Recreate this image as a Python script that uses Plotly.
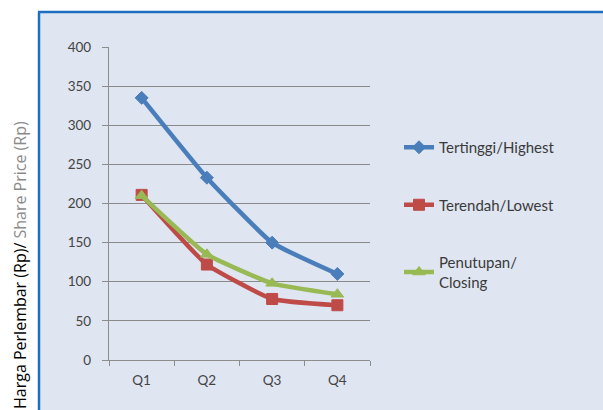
import plotly.graph_objects as go

quarters = ["Q1", "Q2", "Q3", "Q4"]
highest = [335, 233, 150, 110]
lowest = [211, 122, 78, 70]
closing = [210, 135, 98, 84]
names = ["Tertinggi/Highest", "Terendah/Lowest", "Penutupan/<br>Closing"]
y_ticks = [0, 50, 100, 150, 200, 250, 300, 350, 400]

colors = ["#4a7ebb", "#be4b48", "#98b954"]
symbols = ["diamond", "square", "triangle-up"]
sizes = [10, 11, 11]
series = [highest, lowest, closing]

fig = go.Figure()
for i, (vals, nm) in enumerate(zip(series, names)):
    fig.add_trace(go.Scatter(
        x=quarters, y=vals, name=nm, mode="lines+markers",
        line=dict(color=colors[i], width=4.5, shape="spline", smoothing=0.4),
        marker=dict(symbol=symbols[i], size=sizes[i], color=colors[i],
                    line=dict(color=colors[i], width=1)),
        legendgroup=str(i),
    ))

BG = "#dfe5f1"
L, T, W, H = 109, 47, 261, 313
fig.update_layout(
    width=603, height=410,
    margin=dict(l=L, r=603 - L - W, t=T, b=410 - T - H),
    paper_bgcolor="white",
    plot_bgcolor="rgba(0,0,0,0)",
    font=dict(family="Lato, Open Sans, sans-serif", color="#333333"),
    showlegend=True,
    legend=dict(x=(399 - L) / W, y=(T + H - 131) / H, xanchor="left", yanchor="top",
                bgcolor="rgba(0,0,0,0)", font=dict(size=15, color="#3a3a3a"),
                traceorder="grouped", tracegroupgap=35, itemwidth=30),
    shapes=[
        dict(type="rect", xref="paper", yref="paper", x0=(39 - L) / W, x1=2.0,
             y0=-0.3, y1=(T + H - 12) / H, fillcolor=BG, line=dict(width=0), layer="below"),
        dict(type="line", xref="paper", yref="paper", x0=(39 - L) / W, x1=(39 - L) / W,
             y0=-0.3, y1=(T + H - 12) / H, line=dict(color="#1f6fc0", width=2.5), layer="above"),
        dict(type="line", xref="paper", yref="paper", x0=(38 - L) / W, x1=2.0,
             y0=(T + H - 12) / H, y1=(T + H - 12) / H, line=dict(color="#1f6fc0", width=2.5),
             layer="above"),
    ],
    annotations=[
        dict(xref="paper", yref="paper", x=(20 - L) / W, y=(T + H - 119) / H, xanchor="center",
             yanchor="top", textangle=-90, showarrow=False,
             text="<span style='color:#000'>Harga Perlembar (Rp)/</span> "
                  "<span style='color:#8a8a8a'>Share Price (Rp)</span>",
             font=dict(size=16, family="Open Sans, sans-serif")),
    ],
)
fig.update_xaxes(
    showline=True, linecolor="#8c8c8c", linewidth=1.2,
    ticks="outside", ticklen=5, tickcolor="#8c8c8c", tickson="boundaries",
    showgrid=False, tickfont=dict(size=13.5, color="#444"), ticklabelstandoff=8,
    range=[-0.5, 3.5],
)
fig.update_yaxes(
    range=[0, 400], tickvals=y_ticks, showline=True, linecolor="#8c8c8c",
    linewidth=1.2, ticks="outside", ticklen=6, tickcolor="#8c8c8c",
    showgrid=True, gridcolor="#8a8a8a", gridwidth=1, zeroline=False,
    tickfont=dict(size=13.5, color="#444"), ticklabelstandoff=8,
)
fig.write_html("out.html", config={"displayModeBar": False},
               post_script="document.body.style.margin='0';document.body.style.overflow='hidden';")
